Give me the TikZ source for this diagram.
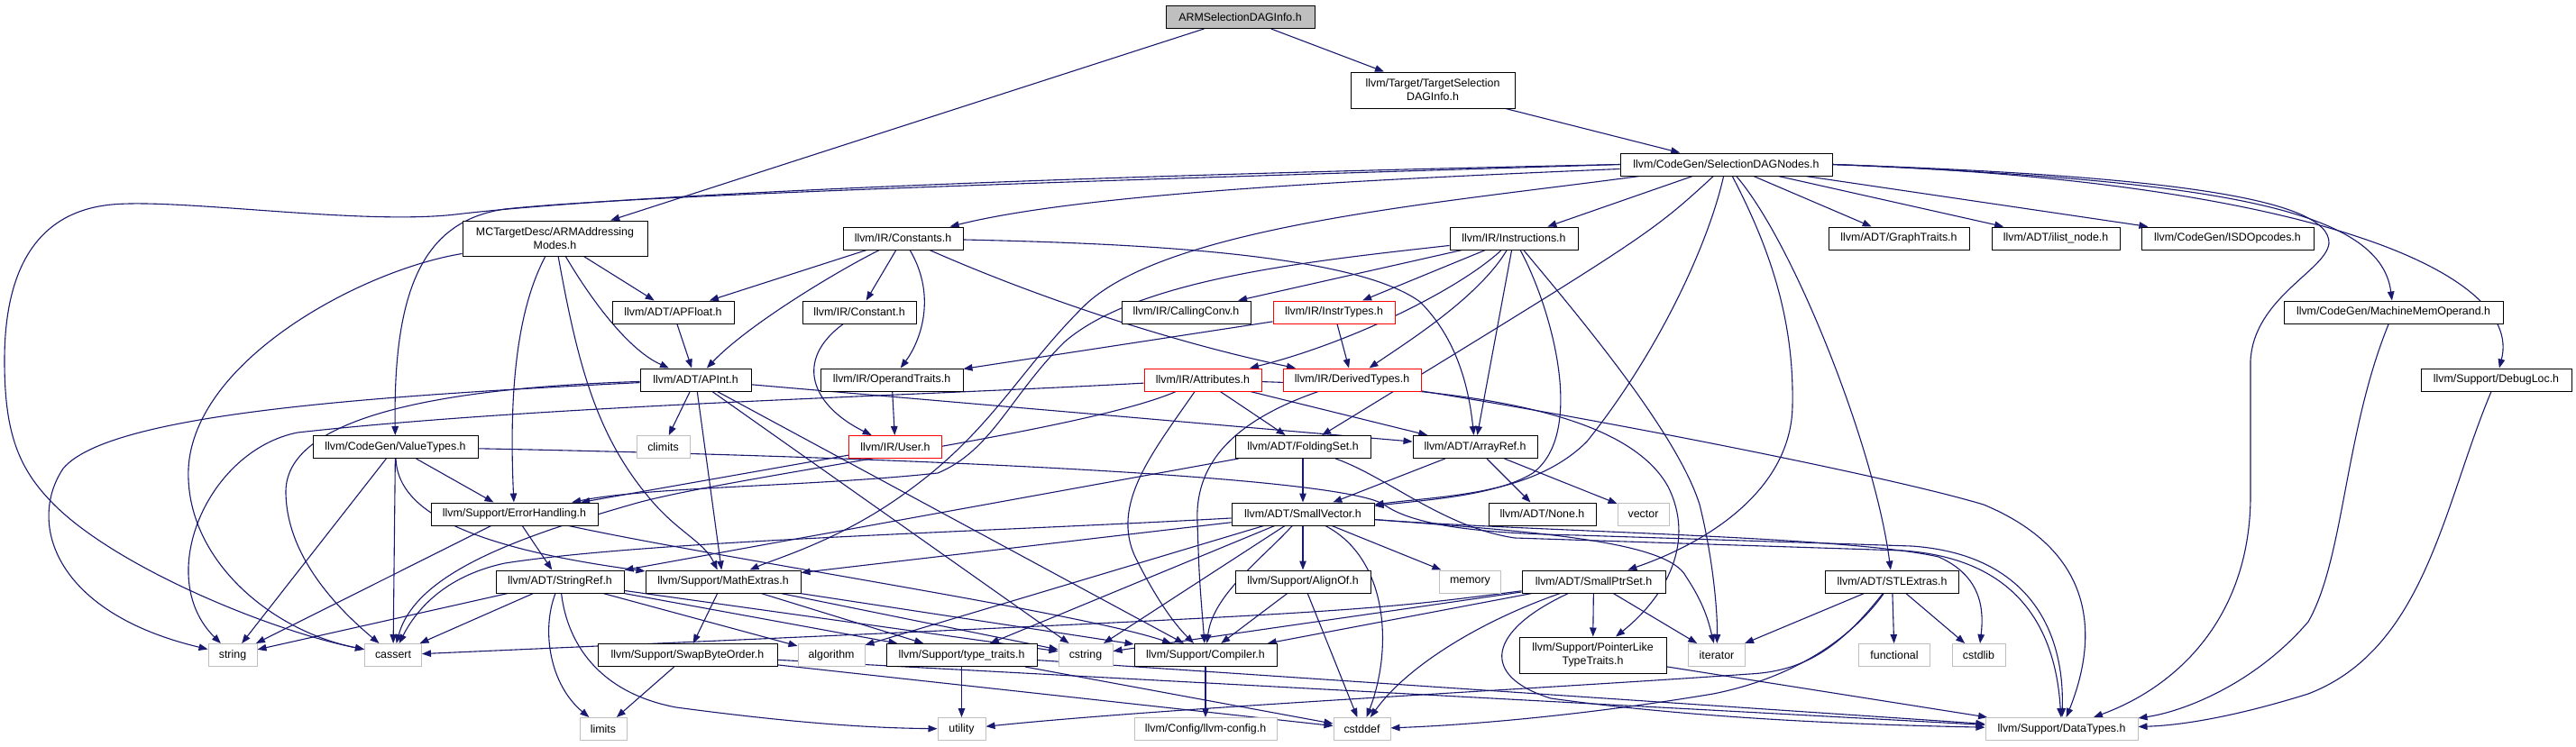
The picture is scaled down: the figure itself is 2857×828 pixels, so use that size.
\documentclass[tikz,border=0pt]{standalone}
\usepackage{fontspec}
\newfontfamily\dox{Liberation Sans}
\usetikzlibrary{arrows.meta}
\pgfdeclarelayer{bgfill}
\pgfdeclarelayer{background}
\pgfsetlayers{bgfill,background,main}
\definecolor{edgec}{HTML}{191970}
\definecolor{grayb}{HTML}{BFBFBF}
\definecolor{redb}{HTML}{FF0000}
\begin{document}
\begin{tikzpicture}[x=1pt,y=-1pt,
  nb/.style={draw=black, line width=1pt, fill=white, inner sep=0pt, minimum height=25pt, align=center, font=\dox\fontsize{12.4}{15}\selectfont},
  ng/.style={nb, draw=grayb, line width=1pt},
  nr/.style={nb, draw=redb},
  dep/.style={draw=edgec, line width=1.1pt, -{Triangle[length=10pt,width=7.5pt]}}]
\useasboundingbox (0,0) rectangle (2857,828);
\begin{pgfonlayer}{bgfill}
\fill[white] (0,0) rectangle (2857,828);
\end{pgfonlayer}
% nodes
\node[nb, fill=grayb, minimum width=165pt] (root) at (1375.5,19) {ARMSelectionDAGInfo.h};
\node[nb, minimum width=182pt, minimum height=40pt] (tsdi) at (1589,100) {llvm/Target/TargetSelection\\DAGInfo.h};
\node[nb, minimum width=235pt] (sdn) at (1914.5,182.5) {llvm/CodeGen/SelectionDAGNodes.h};
\node[nb, minimum width=205pt, minimum height=39pt] (mct) at (615.5,264.5) {MCTargetDesc/ARMAddressing\\Modes.h};
\node[nb, minimum width=133pt] (constants) at (1001.5,264.5) {llvm/IR/Constants.h};
\node[nb, minimum width=142pt] (instructions) at (1679,264.5) {llvm/IR/Instructions.h};
\node[nb, minimum width=156pt] (graphtraits) at (2106,264.5) {llvm/ADT/GraphTraits.h};
\node[nb, minimum width=142pt] (ilist) at (2280,264.5) {llvm/ADT/ilist\_node.h};
\node[nb, minimum width=191pt] (isd) at (2470.5,264.5) {llvm/CodeGen/ISDOpcodes.h};
\node[nb, minimum width=135pt] (apfloat) at (746.5,346.5) {llvm/ADT/APFloat.h};
\node[nb, minimum width=126pt] (constant) at (953,346.5) {llvm/IR/Constant.h};
\node[nb, minimum width=143pt] (callingconv) at (1315.5,346.5) {llvm/IR/CallingConv.h};
\node[nr, minimum width=135pt] (instrtypes) at (1479.5,346.5) {llvm/IR/InstrTypes.h};
\node[nb, minimum width=243pt] (mmo) at (2654.5,346.5) {llvm/CodeGen/MachineMemOperand.h};
\node[nb, minimum width=123pt] (apint) at (771.5,421.5) {llvm/ADT/APInt.h};
\node[nb, minimum width=158pt] (operandtraits) at (989,421.5) {llvm/IR/OperandTraits.h};
\node[nr, minimum width=130pt] (attributes) at (1334,421.5) {llvm/IR/Attributes.h};
\node[nr, minimum width=153pt] (derivedtypes) at (1499.5,421.5) {llvm/IR/DerivedTypes.h};
\node[nb, minimum width=167pt] (debugloc) at (2768.5,421.5) {llvm/Support/DebugLoc.h};
\node[nb, minimum width=183pt] (valuetypes) at (438.5,496) {llvm/CodeGen/ValueTypes.h};
\node[ng, minimum width=59pt] (climits) at (735.5,496) {climits};
\node[nr, minimum width=103pt] (user) at (993,496) {llvm/IR/User.h};
\node[nb, minimum width=150pt] (foldingset) at (1445,496) {llvm/ADT/FoldingSet.h};
\node[nb, minimum width=138pt] (arrayref) at (1636,496) {llvm/ADT/ArrayRef.h};
\node[nb, minimum width=185pt] (errorhandling) at (570.5,570.5) {llvm/Support/ErrorHandling.h};
\node[nb, minimum width=158pt] (smallvector) at (1445,570.5) {llvm/ADT/SmallVector.h};
\node[nb, minimum width=119pt] (none) at (1710.5,570.5) {llvm/ADT/None.h};
\node[ng, minimum width=57pt] (vector) at (1822.5,570.5) {vector};
\node[nb, minimum width=142pt] (stringref) at (621,645.5) {llvm/ADT/StringRef.h};
\node[nb, minimum width=172pt] (mathextras) at (802,645.5) {llvm/Support/MathExtras.h};
\node[nb, minimum width=150pt] (alignof) at (1445,645.5) {llvm/Support/AlignOf.h};
\node[ng, minimum width=68pt] (memory) at (1630.5,645.5) {memory};
\node[nb, minimum width=159pt] (smallptrset) at (1767.5,645.5) {llvm/ADT/SmallPtrSet.h};
\node[nb, minimum width=148pt] (stlextras) at (2098.5,645.5) {llvm/ADT/STLExtras.h};
\node[ng, minimum width=54pt] (string) at (258,727) {string};
\node[ng, minimum width=63pt] (cassert) at (436,727) {cassert};
\node[nb, minimum width=199pt] (swapbyteorder) at (762.5,727) {llvm/Support/SwapByteOrder.h};
\node[ng, minimum width=74pt] (algorithm) at (922,727) {algorithm};
\node[nb, minimum width=167pt] (typetraits) at (1066.5,727) {llvm/Support/type\_traits.h};
\node[ng, minimum width=60pt] (cstring) at (1204,727) {cstring};
\node[nb, minimum width=158pt] (compiler) at (1337,727) {llvm/Support/Compiler.h};
\node[nb, minimum width=163pt, minimum height=40pt] (pointerlike) at (1766.5,727) {llvm/Support/PointerLike\\TypeTraits.h};
\node[ng, minimum width=63pt] (iterator) at (1904,727) {iterator};
\node[ng, minimum width=79pt] (functional) at (2101,727) {functional};
\node[ng, minimum width=59pt] (cstdlib) at (2194.5,727) {cstdlib};
\node[ng, minimum width=52pt] (limits) at (669,809) {limits};
\node[ng, minimum width=53pt] (utility) at (1066.5,809) {utility};
\node[ng, minimum width=63pt] (cstddef) at (1510.5,809) {cstddef};
\node[ng, minimum width=158pt] (llvmconfig) at (1337,809) {llvm/Config/llvm-config.h};
\node[ng, minimum width=169pt] (datatypes) at (2286.5,809) {llvm/Support/DataTypes.h};
\begin{pgfonlayer}{background}
% root
\draw[dep] (root) -- (tsdi);
\draw[dep] (root) -- (mct);
\draw[dep] (tsdi) -- (sdn);
% SelectionDAGNodes
\draw[dep] (sdn) .. controls (1500,200) and (1200,215) .. (constants);
\draw[dep] (sdn) -- (instructions);
\draw[dep] (sdn) -- (graphtraits);
\draw[dep] (sdn) -- (ilist);
\draw[dep] (sdn) -- (isd);
\draw[dep] (sdn.west) .. controls (1200,195) and (700,215) .. (505,238) .. controls (400,250) and (200,220) .. (124,227) .. controls (40,235) and (5,300) .. (5,400) .. controls (5,480) and (20,520) .. (60,560) .. controls (130,630) and (300,700) .. (cassert);
\draw[dep] (sdn.west) .. controls (1300,198) and (720,215) .. (560,232) .. controls (470,245) and (436,320) .. (valuetypes);
\draw[dep] (sdn) .. controls (1600,225) and (1300,250) .. (1205,337) .. controls (1130,410) and (1100,480) .. (1000,550) .. controls (930,600) and (860,620) .. (mathextras);
\draw[dep] (sdn) .. controls (1830,260) .. (foldingset);
\draw[dep] (sdn) .. controls (1895,270) and (1840,390) .. (1760,490) .. controls (1700,550) and (1600,550) .. (smallvector);
\draw[dep] (sdn) .. controls (1960,270) and (1990,350) .. (1988,450) .. controls (1987,540) and (1900,600) .. (smallptrset);
\draw[dep] (sdn) .. controls (1990,270) and (2080,500) .. (stlextras);
\draw[dep] (sdn.east) .. controls (2400,195) and (2585,220) .. (2583,270) .. controls (2580,300) and (2500,330) .. (2496,400) -- (2496,550) .. controls (2496,680) and (2420,760) .. (datatypes);
\draw[dep] (sdn.east) .. controls (2450,200) and (2640,230) .. (mmo);
\draw[dep] (sdn.east) .. controls (2550,200) and (2800,300) .. (debugloc);
% ARMAddressingModes
\draw[dep] (mct) -- (apfloat);
\draw[dep] (mct) .. controls (660,340) and (700,390) .. (apint);
\draw[dep] (mct) .. controls (570,350) and (565,450) .. (errorhandling);
\draw[dep] (mct) .. controls (640,400) and (660,480) .. (718,550) .. controls (750,590) and (780,600) .. (mathextras);
\draw[dep] (mct) .. controls (400,300) and (215,400) .. (209,520) .. controls (205,620) and (300,700) .. (cassert);
% Constants
\draw[dep] (constants) -- (apfloat);
\draw[dep] (constants) .. controls (930,300) and (830,360) .. (apint);
\draw[dep] (constants) -- (constant);
\draw[dep] (constants) .. controls (1040,330) and (1020,380) .. (operandtraits);
\draw[dep] (constants) .. controls (1150,330) and (1300,380) .. (derivedtypes);
\draw[dep] (constants) .. controls (1250,270) and (1500,280) .. (1575,335) .. controls (1620,380) and (1630,440) .. (arrayref);
% Instructions
\draw[dep] (instructions) -- (callingconv);
\draw[dep] (instructions) -- (instrtypes);
\draw[dep] (instructions) .. controls (1620,320) and (1500,380) .. (attributes);
\draw[dep] (instructions) .. controls (1640,330) and (1560,380) .. (derivedtypes);
\draw[dep] (instructions) -- (arrayref);
\draw[dep] (instructions) .. controls (1720,340) and (1760,480) .. (1700,525) .. controls (1660,550) and (1580,555) .. (smallvector);
\draw[dep] (instructions) .. controls (1750,350) and (1860,480) .. (1885,560) .. controls (1900,620) and (1905,680) .. (iterator);
\draw[dep] (instructions) .. controls (1450,290) and (1260,310) .. (1180,380) .. controls (1120,440) and (1100,500) .. (1040,525) .. controls (900,540) and (720,540) .. (errorhandling);
% APFloat / APInt
\draw[dep] (apfloat) -- (apint);
\draw[dep] (apint) -- (arrayref);
\draw[dep] (apint) -- (climits);
\draw[dep] (apint) -- (mathextras);
\draw[dep] (apint) -- (cstring);
\draw[dep] (apint) -- (compiler);
\draw[dep] (apint) .. controls (500,430) and (318,460) .. (317,545) .. controls (317,620) and (380,680) .. (cassert);
\draw[dep] (apint) .. controls (400,440) and (120,460) .. (70,520) .. controls (30,580) and (60,680) .. (string);
% IR
\draw[dep] (constant) .. controls (880,400) and (900,450) .. (user);
\draw[dep] (operandtraits) -- (user);
\draw[dep] (instrtypes) -- (operandtraits);
\draw[dep] (instrtypes) -- (derivedtypes);
\draw[dep] (attributes) -- (arrayref);
\draw[dep] (attributes) -- (foldingset);
\draw[dep] (attributes) .. controls (1600,430) and (1800,450) .. (1850,540) .. controls (1880,600) and (1850,660) .. (pointerlike);
\draw[dep] (attributes) .. controls (1200,480) and (800,530) .. (700,560) .. controls (560,600) and (460,640) .. (cassert);
\draw[dep] (attributes) .. controls (1000,440) and (600,450) .. (330,480) .. controls (230,500) and (170,640) .. (string);
\draw[dep] (attributes) .. controls (1280,500) and (1230,560) .. (1260,620) .. controls (1280,660) and (1300,690) .. (compiler);
\draw[dep] (derivedtypes) .. controls (1360,470) and (1325,520) .. (1328,580) .. controls (1330,640) .. (compiler);
\draw[dep] (derivedtypes) .. controls (1800,470) and (2100,530) .. (2200,560) .. controls (2320,610) and (2330,700) .. (datatypes);
\draw[dep] (user) -- (errorhandling);
% CodeGen
\draw[dep] (mmo) .. controls (2600,480) and (2600,620) .. (2560,690) .. controls (2500,760) and (2420,790) .. (datatypes);
\draw[dep] (debugloc) .. controls (2710,560) and (2690,720) .. (2560,770) .. controls (2480,795) and (2420,805) .. (datatypes);
\draw[dep] (valuetypes) -- (string);
\draw[dep] (valuetypes) -- (cassert);
\draw[dep] (valuetypes) -- (errorhandling);
\draw[dep] (valuetypes) .. controls (441,560) and (500,605) .. (mathextras);
\draw[dep] (valuetypes) .. controls (900,505) and (1480,525) .. (1535,560) .. controls (1570,585) and (1650,592) .. (1750,594) -- (2120,606) .. controls (2250,615) and (2290,700) .. (datatypes);
% ADT
\draw[dep] (foldingset) -- (smallvector);
\draw[dep] (foldingset) -- (stringref);
\draw[dep] (foldingset) .. controls (1540,530) and (1600,585) .. (1680,597) -- (2110,611) .. controls (2240,620) and (2280,700) .. (datatypes);
\draw[dep] (arrayref) -- (none);
\draw[dep] (arrayref) -- (vector);
\draw[dep] (arrayref) -- (smallvector);
\draw[dep] (errorhandling) -- (stringref);
\draw[dep] (errorhandling) -- (string);
\draw[dep] (errorhandling) .. controls (800,620) and (1200,680) .. (compiler);
\draw[dep] (smallvector) -- (alignof);
\draw[dep] (smallvector) -- (memory);
\draw[dep] (smallvector) .. controls (1540,620) and (1545,720) .. (cstddef);
\draw[dep] (smallvector) .. controls (1700,590) and (2050,595) .. (2150,618) .. controls (2200,640) and (2200,680) .. (cstdlib);
\draw[dep] (smallvector) .. controls (1700,590) and (1850,600) .. (1870,640) .. controls (1890,670) and (1895,690) .. (iterator);
\draw[dep] (smallvector) -- (mathextras);
\draw[dep] (smallvector) .. controls (1100,590) and (720,600) .. (560,625) .. controls (490,640) and (460,680) .. (cassert);
\draw[dep] (smallvector) -- (algorithm);
\draw[dep] (smallvector) -- (typetraits);
\draw[dep] (smallvector) -- (cstring);
\draw[dep] (smallvector) .. controls (1400,620) and (1345,660) .. (compiler);
\draw[dep] (stringref) -- (string);
\draw[dep] (stringref) -- (cassert);
\draw[dep] (stringref) .. controls (600,700) and (610,760) .. (limits);
\draw[dep] (stringref) .. controls (630,720) and (670,770) .. (750,785) .. controls (900,805) and (980,808) .. (utility);
\draw[dep] (stringref) -- (algorithm);
\draw[dep] (stringref) -- (cstring);
\draw[dep] (stringref) -- (typetraits);
\draw[dep] (mathextras) -- (swapbyteorder);
\draw[dep] (mathextras) -- (typetraits);
\draw[dep] (mathextras) -- (cstring);
\draw[dep] (mathextras) -- (compiler);
\draw[dep] (alignof) -- (compiler);
\draw[dep] (alignof) -- (cstddef);
\draw[dep] (smallptrset) -- (pointerlike);
\draw[dep] (smallptrset) -- (iterator);
\draw[dep] (smallptrset) .. controls (1640,690) and (1560,740) .. (cstddef);
\draw[dep] (smallptrset) .. controls (1650,700) and (1640,750) .. (1720,775) .. controls (1900,800) and (2100,805) .. (datatypes);
\draw[dep] (smallptrset) .. controls (1500,680) .. (cassert);
\draw[dep] (smallptrset) -- (cstring);
\draw[dep] (smallptrset) -- (compiler);
\draw[dep] (stlextras) -- (iterator);
\draw[dep] (stlextras) -- (functional);
\draw[dep] (stlextras) -- (cstdlib);
\draw[dep] (stlextras) .. controls (2040,720) and (2000,745) .. (1940,748) .. controls (1700,765) and (1300,785) .. (utility);
\draw[dep] (stlextras) .. controls (2060,700) and (2000,750) .. (1900,770) .. controls (1750,795) and (1620,805) .. (cstddef);
\draw[dep] (swapbyteorder) -- (limits);
\draw[dep] (swapbyteorder) -- (cstddef);
\draw[dep] (swapbyteorder) -- (datatypes);
\draw[dep] (typetraits) -- (utility);
\draw[dep] (typetraits) -- (cstddef);
\draw[dep] (typetraits) -- (datatypes);
\draw[dep] (compiler) -- (llvmconfig);
\draw[dep] (pointerlike) -- (datatypes);
\end{pgfonlayer}
\end{tikzpicture}
\end{document}
